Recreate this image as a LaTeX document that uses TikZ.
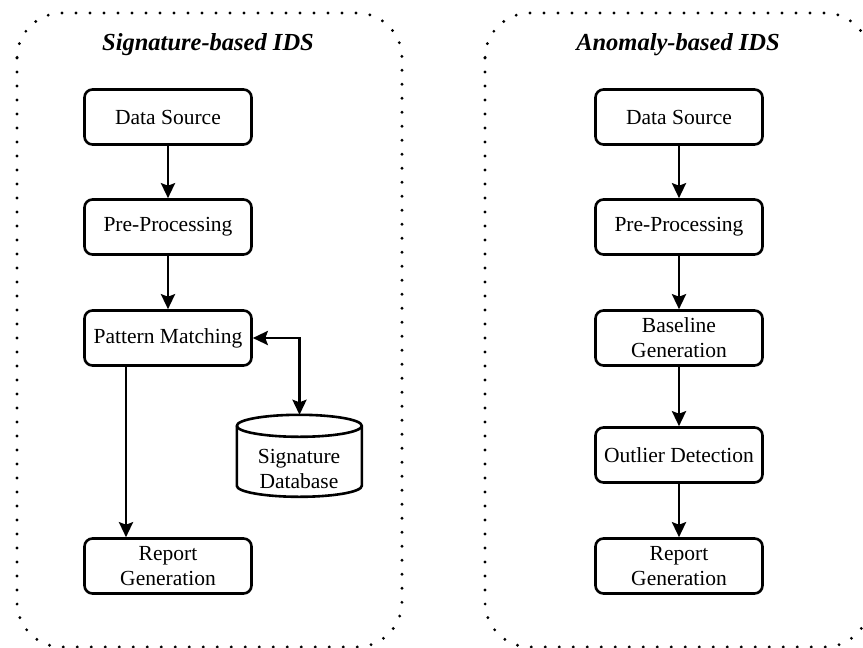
\documentclass[tikz,border=0pt]{standalone}
\usepackage{fontspec}
\setmainfont{Liberation Serif}
\usetikzlibrary{arrows.meta}

\tikzset{
  procbox/.style={draw, line width=2.6pt, rounded corners=8pt,
    minimum width=167pt, minimum height=55pt, inner sep=0pt,
    align=center, font=\fontsize{21.5}{25}\selectfont},
  flow/.style={line width=2.8pt, -{Stealth[length=15pt,width=14pt,inset=2.5pt]}},
  bothflow/.style={line width=2.8pt,
    {Stealth[length=15pt,width=14pt,inset=2.5pt]}-{Stealth[length=15pt,width=14pt,inset=2.5pt]}},
  panel/.style={line width=3.2pt, line cap=round,
    dash pattern=on 0pt off 14pt, rounded corners=45pt},
  paneltitle/.style={font=\fontsize{24.5}{28}\selectfont\bfseries\itshape}
}

\begin{document}
\begin{tikzpicture}[x=1pt,y=-1pt]
  \useasboundingbox (0,0) rectangle (863,648);
  \clip (0,0) rectangle (863,648);

  % dotted panel outlines
  \draw[panel] (17,13) rectangle (402,647);
  \draw[panel] (485,13) rectangle (870,647);

  % panel titles
  \node[paneltitle] (t1) at (208,45) {Signature-based IDS};
  \node[paneltitle] (t2) at (678,45) {Anomaly-based IDS};

  % signature-based pipeline
  \node[procbox] (sds) at (168,117) {Data Source};
  \node[procbox] (spp) at (168,227) {Pre-Processing};
  \node[procbox] (spm) at (168,338) {Pattern Matching};
  \node[procbox] (srg) at (168,566) {Report\\Generation};

  % signature database cylinder
  \node[minimum width=125pt, minimum height=82pt, inner sep=0pt] (db) at (299.5,456) {};
  \draw[line width=2.6pt, fill=white]
    (db.north west) ++(0,11) coordinate (dbtl)
    arc[start angle=180, end angle=0, x radius=62.5, y radius=-11]
    -- ++(0,60)
    arc[start angle=0, end angle=-180, x radius=62.5, y radius=-11]
    -- cycle;
  \draw[line width=2.6pt] (dbtl)
    arc[start angle=180, end angle=360, x radius=62.5, y radius=-11];
  \node[align=center, font=\fontsize{21.5}{25}\selectfont] (dbt) at (299,469) {Signature\\Database};

  \draw[flow] (sds) -- (spp);
  \draw[flow] (spp) -- (spm);
  \draw[flow] (spm.south -| 126,0) -- (srg.north -| 126,0);
  \draw[bothflow] (spm.east) -| (db.north);

  % anomaly-based pipeline
  \node[procbox] (ads) at (679,117) {Data Source};
  \node[procbox] (app) at (679,227) {Pre-Processing};
  \node[procbox] (abg) at (679,338) {Baseline\\Generation};
  \node[procbox] (aod) at (679,455) {Outlier Detection};
  \node[procbox] (arg) at (679,566) {Report\\Generation};

  \draw[flow] (ads) -- (app);
  \draw[flow] (app) -- (abg);
  \draw[flow] (abg) -- (aod);
  \draw[flow] (aod) -- (arg);
\end{tikzpicture}
\end{document}
